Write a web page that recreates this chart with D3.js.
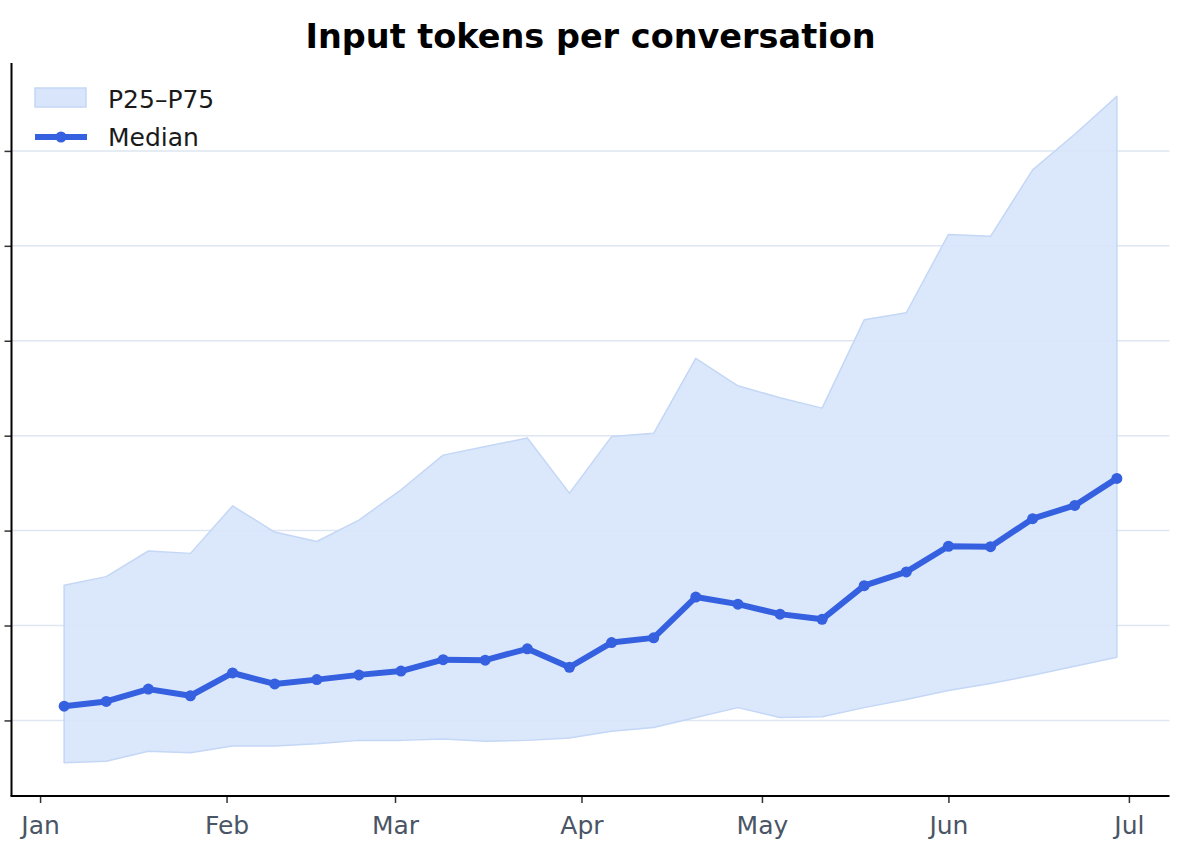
<!DOCTYPE html>
<html>
<head>
<meta charset="utf-8">
<script src="https://cdn.jsdelivr.net/npm/d3@7"></script>
<style>
  html, body { margin: 0; padding: 0; background: #ffffff; }
  svg { display: block; }
</style>
</head>
<body>
<svg id="chart" width="1200" height="849"></svg>
<script>
// Weekly buckets (week start dates)
const weeks = [
  "2025-01-05", "2025-01-12", "2025-01-19", "2025-01-26",
  "2025-02-02", "2025-02-09", "2025-02-16", "2025-02-23",
  "2025-03-02", "2025-03-09", "2025-03-16", "2025-03-23", "2025-03-30",
  "2025-04-06", "2025-04-13", "2025-04-20", "2025-04-27",
  "2025-05-04", "2025-05-11", "2025-05-18", "2025-05-25",
  "2025-06-01", "2025-06-08", "2025-06-15", "2025-06-22", "2025-06-29"
];

const median = [
  1150, 1200, 1330, 1260, 1500, 1385, 1430, 1480, 1520, 1640, 1635, 1755, 1560,
  1820, 1870, 2300, 2225, 2120, 2065, 2420, 2565, 2835, 2830, 3125, 3265, 3550
];

const p25 = [
  555, 570, 675, 660, 730, 730, 755, 790, 790, 805, 780, 790, 815,
  885, 925, 1030, 1135, 1030, 1040, 1135, 1220, 1315, 1390, 1475, 1570, 1665
];

const p75 = [
  2425, 2515, 2785, 2760, 3260, 2985, 2885, 3110, 3430, 3795, 3885, 3975, 3395,
  3990, 4025, 4815, 4525, 4400, 4290, 5220, 5295, 6120, 6100, 6800, 7175, 7575
];

// y gridlines (labels hidden in the original)
const yTickValues = [1000, 2000, 3000, 4000, 5000, 6000, 7000];

const monthTicks = ["2025-01-01", "2025-02-01", "2025-03-01", "2025-04-01", "2025-05-01", "2025-06-01", "2025-07-01"];
const monthLabels = ["Jan", "Feb", "Mar", "Apr", "May", "Jun", "Jul"];

const FONT = '"DejaVu Sans", Verdana, sans-serif';
const LINE_COLOR = "#3560e0";
const BAND_FILL = "#d8e5fa";
const BAND_EDGE = "#c4d7f6";
const GRID_COLOR = "#dde6f1";
const TICK_TEXT = "#4a5565";

const width = 1200;
const height = 849;
const plot = { left: 11.5, right: 1169.5, top: 63, bottom: 796 };

const data = weeks.map((w, i) => ({
  date: d3.utcParse("%Y-%m-%d")(w),
  median: median[i],
  lo: p25[i],
  hi: p75[i],
}));

// matplotlib-style 5% margins around the data extent
const xExt = d3.extent(data, (d) => d.date);
const xPad = (xExt[1] - xExt[0]) * 0.05;
const x = d3
  .scaleUtc()
  .domain([new Date(+xExt[0] - xPad), new Date(+xExt[1] + xPad)])
  .range([plot.left, plot.right]);

const yMin = d3.min(p25);
const yMax = d3.max(p75);
const yPad = (yMax - yMin) * 0.05;
const y = d3
  .scaleLinear()
  .domain([yMin - yPad, yMax + yPad])
  .range([plot.bottom, plot.top]);

const svg = d3.select("#chart").style("font-family", FONT);

svg.append("rect").attr("width", width).attr("height", height).attr("fill", "#ffffff");

// Gridlines
svg
  .append("g")
  .selectAll("line")
  .data(yTickValues)
  .join("line")
  .attr("x1", plot.left)
  .attr("x2", plot.right)
  .attr("y1", (d) => y(d))
  .attr("y2", (d) => y(d))
  .attr("stroke", GRID_COLOR)
  .attr("stroke-width", 1.5);

// P25-P75 band
const area = d3
  .area()
  .x((d) => x(d.date))
  .y0((d) => y(d.lo))
  .y1((d) => y(d.hi));

svg
  .append("path")
  .datum(data)
  .attr("d", area)
  .attr("fill", BAND_FILL)
  .attr("fill-opacity", 0.93)
  .attr("stroke", BAND_EDGE)
  .attr("stroke-width", 1.5)
  .attr("stroke-linejoin", "round");

// Median line + markers
const line = d3
  .line()
  .x((d) => x(d.date))
  .y((d) => y(d.median));

svg
  .append("path")
  .datum(data)
  .attr("d", line)
  .attr("fill", "none")
  .attr("stroke", LINE_COLOR)
  .attr("stroke-width", 6)
  .attr("stroke-linejoin", "round")
  .attr("stroke-linecap", "round");

svg
  .append("g")
  .selectAll("circle")
  .data(data)
  .join("circle")
  .attr("cx", (d) => x(d.date))
  .attr("cy", (d) => y(d.median))
  .attr("r", 5.5)
  .attr("fill", LINE_COLOR);

// X axis
const parseDay = d3.utcParse("%Y-%m-%d");
const xAxis = d3
  .axisBottom(x)
  .tickValues(monthTicks.map(parseDay))
  .tickFormat((d, i) => monthLabels[i])
  .tickSizeOuter(0)
  .tickSize(7)
  .tickPadding(13);

const xG = svg.append("g").attr("transform", `translate(0, ${plot.bottom})`).call(xAxis);
xG.select(".domain").remove();
xG.selectAll("line").attr("stroke", "#333333").attr("stroke-width", 1.5);
xG.selectAll("text")
  .attr("fill", TICK_TEXT)
  .attr("font-size", 25)
  .attr("font-family", FONT);

// Y axis (ticks only, no labels)
const yAxis = d3
  .axisLeft(y)
  .tickValues(yTickValues)
  .tickFormat(() => "")
  .tickSizeOuter(0)
  .tickSize(7);

const yG = svg.append("g").attr("transform", `translate(${plot.left}, 0)`).call(yAxis);
yG.select(".domain").remove();
yG.selectAll("line").attr("stroke", "#333333").attr("stroke-width", 1.5);

// Spines (left + bottom)
svg
  .append("line")
  .attr("x1", plot.left)
  .attr("x2", plot.left)
  .attr("y1", plot.top)
  .attr("y2", plot.bottom)
  .attr("stroke", "#000000")
  .attr("stroke-width", 2);

svg
  .append("line")
  .attr("x1", plot.left - 1)
  .attr("x2", plot.right)
  .attr("y1", plot.bottom)
  .attr("y2", plot.bottom)
  .attr("stroke", "#000000")
  .attr("stroke-width", 2);

// Title
svg
  .append("text")
  .attr("x", (plot.left + plot.right) / 2)
  .attr("y", 48)
  .attr("text-anchor", "middle")
  .attr("font-size", 33.5)
  .attr("font-weight", 700)
  .attr("fill", "#000000")
  .text("Input tokens per conversation");

// Legend
const legend = svg.append("g").attr("font-size", 25).attr("fill", "#1a1a1a");

legend
  .append("rect")
  .attr("x", 35)
  .attr("y", 88)
  .attr("width", 51)
  .attr("height", 19)
  .attr("fill", BAND_FILL)
  .attr("stroke", BAND_EDGE)
  .attr("stroke-width", 1.5);

legend.append("text").attr("x", 108).attr("y", 107.5).text("P25–P75");

legend
  .append("line")
  .attr("x1", 35)
  .attr("x2", 87)
  .attr("y1", 137)
  .attr("y2", 137)
  .attr("stroke", LINE_COLOR)
  .attr("stroke-width", 6);

legend
  .append("circle")
  .attr("cx", 61)
  .attr("cy", 137)
  .attr("r", 5.5)
  .attr("fill", LINE_COLOR);

legend.append("text").attr("x", 108).attr("y", 146).text("Median");
</script>
</body>
</html>
